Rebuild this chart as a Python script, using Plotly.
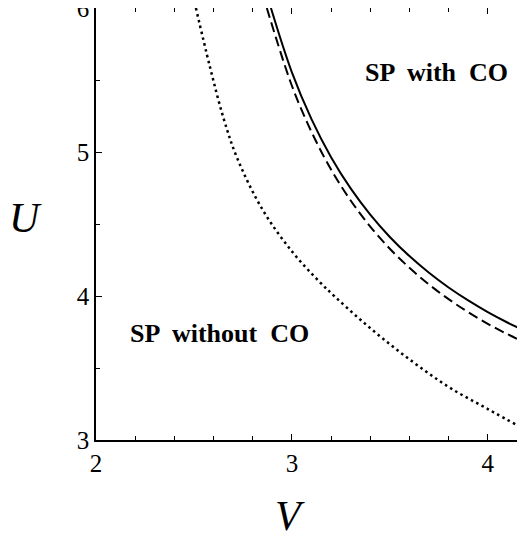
import plotly.graph_objects as go

# Curves
V_solid = [2.893, 3.0, 3.1, 3.2, 3.3, 3.4, 3.5, 3.6, 3.7, 3.8, 3.9, 4.0, 4.1, 4.2]
U_solid = [6.0, 5.553, 5.228, 4.964, 4.747, 4.565, 4.410, 4.277, 4.161, 4.059, 3.969, 3.888, 3.816, 3.751]

V_dashed = [2.872, 3.0, 3.1, 3.2, 3.3, 3.4, 3.5, 3.6, 3.7, 3.8, 3.9, 4.0, 4.1, 4.2]
U_dashed = [6.0, 5.46, 5.14, 4.878, 4.663, 4.482, 4.328, 4.196, 4.08, 3.978, 3.888, 3.807, 3.735, 3.671]

V_dotted = [2.51, 2.58, 2.65, 2.72, 2.85, 3.0, 3.14, 3.22, 3.35, 3.5, 3.65, 3.81, 4.0, 4.2]
U_dotted = [6.0, 5.60, 5.24, 4.96, 4.60, 4.31, 4.10, 3.995, 3.835, 3.665, 3.51, 3.36, 3.215, 3.065]

x_range = [2, 4.19]
y_range = [3, 6]
x_ticks = [2, 3, 4]
y_ticks = [3, 4, 5, 6]

FONT = "Liberation Serif, Times New Roman, serif"

fig = go.Figure()
fig.add_trace(go.Scatter(x=V_solid, y=U_solid, mode="lines",
                         line=dict(color="black", width=2, shape="spline"), showlegend=False))
fig.add_trace(go.Scatter(x=V_dashed, y=U_dashed, mode="lines",
                         line=dict(color="black", width=2, dash="10px,5px", shape="spline"), showlegend=False))
fig.add_trace(go.Scatter(x=V_dotted, y=U_dotted, mode="lines",
                         line=dict(color="black", width=2.5, dash="2.5px,3.5px", shape="spline"), showlegend=False))

axis_common = dict(showgrid=False, zeroline=False, showline=True, linecolor="black", linewidth=1.5,
                   mirror="ticks", ticks="inside", ticklen=6, tickwidth=1.2, tickcolor="black",
                   ticklabeloverflow="allow", automargin=False,
                   tickfont=dict(family=FONT, size=25, color="black"))

fig.update_xaxes(range=x_range, tickvals=x_ticks, ticktext=[str(t) for t in x_ticks],
                 minor=dict(dtick=0.2, ticks="inside", ticklen=4, tickcolor="black", tickwidth=1),
                 **axis_common)
fig.update_yaxes(range=y_range, tickvals=y_ticks, ticktext=[str(t) for t in y_ticks],
                 minor=dict(dtick=0.5, ticks="inside", ticklen=4, tickcolor="black", tickwidth=1),
                 **axis_common)

ann = dict(showarrow=False, xanchor="center", yanchor="middle")
fig.add_annotation(x=3.74, y=5.55, xref="x", yref="y", text="<b>SP  with  CO</b>",
                   font=dict(family=FONT, size=26, color="black"), **ann)
fig.add_annotation(x=2.63, y=3.74, xref="x", yref="y", text="<b>SP  without  CO</b>",
                   font=dict(family=FONT, size=26, color="black"), **ann)
fig.add_annotation(x=-0.165, y=4.54, xref="paper", yref="y", text="<i>U</i>",
                   font=dict(family=FONT, size=42, color="black"), **ann)
fig.add_annotation(x=2.99, y=-0.176, xref="x", yref="paper", text="<i>V</i>",
                   font=dict(family=FONT, size=42, color="black"), **ann)

fig.update_layout(width=517, height=535, margin=dict(l=88, r=0, t=0, b=103, autoexpand=False),
                  plot_bgcolor="white", paper_bgcolor="white")

fig.write_html("out.html")
